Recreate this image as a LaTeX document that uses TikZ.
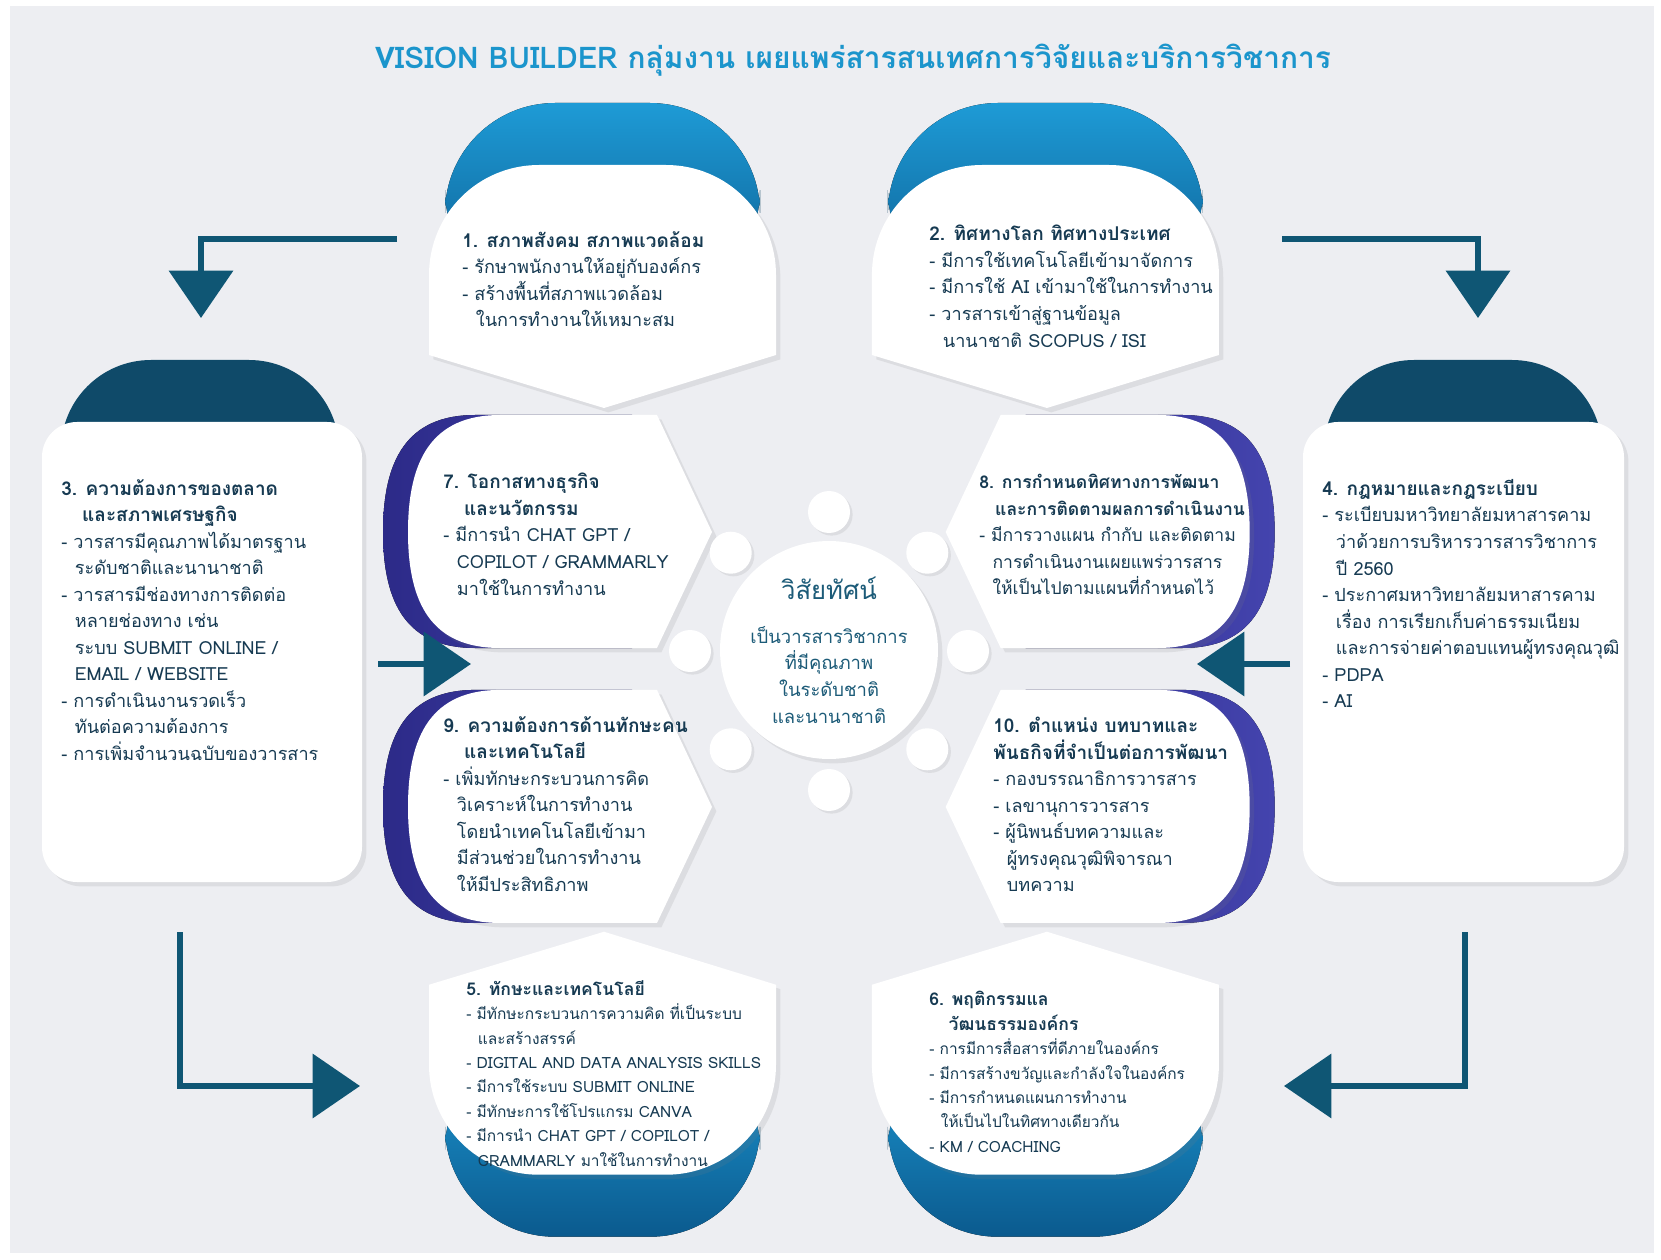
\documentclass[tikz,border=0pt]{standalone}
\usepackage{fontspec}
\setmainfont[Script=Thai]{Loma}
\usetikzlibrary{arrows.meta, calc, shadows}

\definecolor{bgc}{HTML}{EDEEF2}
\definecolor{titlec}{HTML}{1B95CC}
\definecolor{txtc}{HTML}{163A52}
\definecolor{capl}{HTML}{1E9BD6}
\definecolor{capd}{HTML}{0B5A8E}
\definecolor{navy}{HTML}{0F4A69}
\definecolor{purpl}{HTML}{4444AE}
\definecolor{purpd}{HTML}{2C2A88}
\definecolor{arrowc}{HTML}{0F5674}
\definecolor{visionc}{HTML}{1C5B78}

\newcommand{\hd}[1]{{\fontsize{10.8}{15.1}\selectfont\bfseries #1}}
\newcommand{\hds}[1]{{\fontsize{10}{13.9}\selectfont\bfseries #1}}
\newcommand{\ind}{\hspace*{0.75em}}

\tikzset{
    panel/.style={fill=white, drop shadow={opacity=0.15, shadow xshift=2.5pt, shadow yshift=-2.5pt}},
    bluecap/.style={top color=capl, bottom color=capd},
    navycap/.style={fill=navy},
    crescent/.style={left color=purpd, right color=purpl},
    flowarrow/.style={draw=arrowc, line width=3.7pt, -{Triangle[length=27pt, width=36pt]}},
    bead/.style={circle, minimum size=0.84cm, inner sep=0pt, fill=white,
                 drop shadow={opacity=0.15, shadow xshift=1.5pt, shadow yshift=-1.5pt}},
    itemtext/.style={anchor=north west, inner sep=0pt, align=left, text=txtc,
                     font=\fontsize{10.3}{15.1}\selectfont},
    smalltext/.style={itemtext, font=\fontsize{8.8}{13.9}\selectfont},
}

\begin{document}
\begin{tikzpicture}[x=0.02cm, y=-0.02cm]

    \useasboundingbox (0,0) rectangle (1661,1260);
    \fill[white] (0,0) rectangle (1661,1260);
    \fill[bgc] (10,6) rectangle (1654,1253);

    % top and bottom shields (1, 2, 5, 6)
    \foreach \dx/\dy/\sy in {0/0/1, 8.86/0/1, 0/-26.8/-1, 8.86/-26.8/-1} {
        \begin{scope}[xshift=\dx cm, yshift=\dy cm, yscale=\sy]
            \fill[bluecap, rounded corners=2.2cm] (445,103) rectangle (760,300);
            \path[panel] (429,355) -- (429,275) .. controls (429,214) and (478,165) .. (539,165)
                -- (666,165) .. controls (727,165) and (776,214) .. (776,275)
                -- (776,355) -- (604,408) -- cycle;
        \end{scope}
    }

    % side panels (7, 8, 9, 10)
    \foreach \dx/\sx/\dy in {0/1/0, 0/1/-5.5, 33.16/-1/0, 33.16/-1/-5.5} {
        \begin{scope}[xshift=\dx cm, yshift=\dy cm, xscale=\sx]
            \begin{scope}[xshift=-0.5cm]
                \fill[crescent] (657,415) -- (712,532) -- (657,648) -- (500,648)
                    .. controls (432,648) and (408,604) .. (408,532)
                    .. controls (408,460) and (432,415) .. (500,415) -- cycle;
            \end{scope}
            \path[panel] (657,415) -- (712,532) -- (657,648) -- (500,648)
                .. controls (432,648) and (408,604) .. (408,532)
                .. controls (408,460) and (432,415) .. (500,415) -- cycle;
        \end{scope}
    }

    % left and right panels (3, 4)
    \fill[navycap, rounded corners=1.8cm] (61,360) rectangle (339,520);
    \path[panel, rounded corners=0.7cm] (42,422) rectangle (362,882);
    \fill[navycap, rounded corners=1.8cm] (1324,360) rectangle (1602,520);
    \path[panel, rounded corners=0.7cm] (1303,422) rectangle (1624,882);

    % beads round the centre
    \foreach \a [count=\i] in {0,45,...,315}
        \node[bead] (bead\i) at ($(829,651)+(\a:139)$) {};

    \node[circle, fill=white, minimum size=4.36cm, inner sep=0pt, align=center, text=visionc,
          font=\fontsize{10.5}{15.1}\selectfont,
          drop shadow={opacity=0.15, shadow xshift=2.5pt, shadow yshift=-2.5pt}] (vision) at (829,650)
        {{\fontsize{14.6}{20}\selectfont วิสัยทัศน์}\\[10pt]
         เป็นวารสารวิชาการ\\ ที่มีคุณภาพ\\ ในระดับชาติ\\ และนานาชาติ};

    % title
    \node[font=\fontsize{17}{20}\selectfont\bfseries, text=titlec] (title) at (853,60)
        {VISION BUILDER กลุ่มงาน เผยแพร่สารสนเทศการวิจัยและบริการวิชาการ};

    % connectors
    \coordinate (tlA) at (397,239);
    \coordinate (tlB) at (201,318);
    \coordinate (trA) at (1282,239);
    \coordinate (trB) at (1478,318);
    \coordinate (mlA) at (378,664);
    \coordinate (mlB) at (471,664);
    \coordinate (mrA) at (1290,664);
    \coordinate (mrB) at (1197,664);
    \coordinate (blA) at (180,932);
    \coordinate (blB) at (360,1086);
    \coordinate (brA) at (1465,932);
    \coordinate (brB) at (1284,1086);

    \draw[flowarrow] (tlA) -| (tlB);
    \draw[flowarrow] (trA) -| (trB);
    \draw[flowarrow] (mlA) -- (mlB);
    \draw[flowarrow] (mrA) -- (mrB);
    \draw[flowarrow] (blA) |- (blB);
    \draw[flowarrow] (brA) |- (brB);

    % panel texts
    \node[itemtext] (social) at (462,231)
        {\hd{1. สภาพสังคม สภาพแวดล้อม}\\
         - รักษาพนักงานให้อยู่กับองค์กร\\
         - สร้างพื้นที่สภาพแวดล้อม\\
         \ind ในการทำงานให้เหมาะสม};

    \node[itemtext] (world) at (929,225)
        {\hd{2. ทิศทางโลก ทิศทางประเทศ}\\
         - มีการใช้เทคโนโลยีเข้ามาจัดการ\\
         - มีการใช้ AI เข้ามาใช้ในการทำงาน\\
         - วารสารเข้าสู่ฐานข้อมูล\\
         \ind นานาชาติ SCOPUS / ISI};

    \node[itemtext] (market) at (61,479)
        {\hd{3. ความต้องการของตลาด}\\
         \hd{\hspace*{1.1em}และสภาพเศรษฐกิจ}\\
         - วารสารมีคุณภาพได้มาตรฐาน\\
         \ind ระดับชาติและนานาชาติ\\
         - วารสารมีช่องทางการติดต่อ\\
         \ind หลายช่องทาง เช่น\\
         \ind ระบบ SUBMIT ONLINE /\\
         \ind EMAIL / WEBSITE\\
         - การดำเนินงานรวดเร็ว\\
         \ind ทันต่อความต้องการ\\
         - การเพิ่มจำนวนฉบับของวารสาร};

    \node[itemtext] (law) at (1322,479)
        {\hd{4. กฎหมายและกฎระเบียบ}\\
         - ระเบียบมหาวิทยาลัยมหาสารคาม\\
         \ind ว่าด้วยการบริหารวารสารวิชาการ\\
         \ind ปี 2560\\
         - ประกาศมหาวิทยาลัยมหาสารคาม\\
         \ind เรื่อง การเรียกเก็บค่าธรรมเนียม\\
         \ind และการจ่ายค่าตอบแทนผู้ทรงคุณวุฒิ\\
         - PDPA\\
         - AI};

    \node[smalltext] (skills) at (466,980)
        {\hds{5. ทักษะและเทคโนโลยี}\\
         - มีทักษะกระบวนการความคิด ที่เป็นระบบ\\
         \ind และสร้างสรรค์\\
         - DIGITAL AND DATA ANALYSIS SKILLS\\
         - มีการใช้ระบบ SUBMIT ONLINE\\
         - มีทักษะการใช้โปรแกรม CANVA\\
         - มีการนำ CHAT GPT / COPILOT /\\
         \ind GRAMMARLY มาใช้ในการทำงาน};

    \node[smalltext] (culture) at (929,991)
        {\hds{6. พฤติกรรมแล}\\
         \hds{\hspace*{1.1em}วัฒนธรรมองค์กร}\\
         - การมีการสื่อสารที่ดีภายในองค์กร\\
         - มีการสร้างขวัญและกำลังใจในองค์กร\\
         - มีการกำหนดแผนการทำงาน\\
         \ind ให้เป็นไปในทิศทางเดียวกัน\\
         - KM / COACHING};

    \node[itemtext] (business) at (443,473)
        {\hd{7. โอกาสทางธุรกิจ}\\
         \hd{\hspace*{1.1em}และนวัตกรรม}\\
         - มีการนำ CHAT GPT /\\
         \ind COPILOT / GRAMMARLY\\
         \ind มาใช้ในการทำงาน};

    \node[itemtext, font=\fontsize{10}{15.1}\selectfont] (direction) at (979,474)
        {{\bfseries 8. การกำหนดทิศทางการพัฒนา}\\
         {\bfseries\hspace*{0.9em}และการติดตามผลการดำเนินงาน}\\
         - มีการวางแผน กำกับ และติดตาม\\
         \ind การดำเนินงานเผยแพร่วารสาร\\
         \ind ให้เป็นไปตามแผนที่กำหนดไว้};

    \node[itemtext] (people) at (443,716)
        {\hd{9. ความต้องการด้านทักษะคน}\\
         \hd{\hspace*{1.1em}และเทคโนโลยี}\\
         - เพิ่มทักษะกระบวนการคิด\\
         \ind วิเคราะห์ในการทำงาน\\
         \ind โดยนำเทคโนโลยีเข้ามา\\
         \ind มีส่วนช่วยในการทำงาน\\
         \ind ให้มีประสิทธิภาพ};

    \node[itemtext] (roles) at (993,717)
        {\hd{10. ตำแหน่ง บทบาทและ}\\
         \hd{พันธกิจที่จำเป็นต่อการพัฒนา}\\
         - กองบรรณาธิการวารสาร\\
         - เลขานุการวารสาร\\
         - ผู้นิพนธ์บทความและ\\
         \ind ผู้ทรงคุณวุฒิพิจารณา\\
         \ind บทความ};

\end{tikzpicture}
\end{document}
